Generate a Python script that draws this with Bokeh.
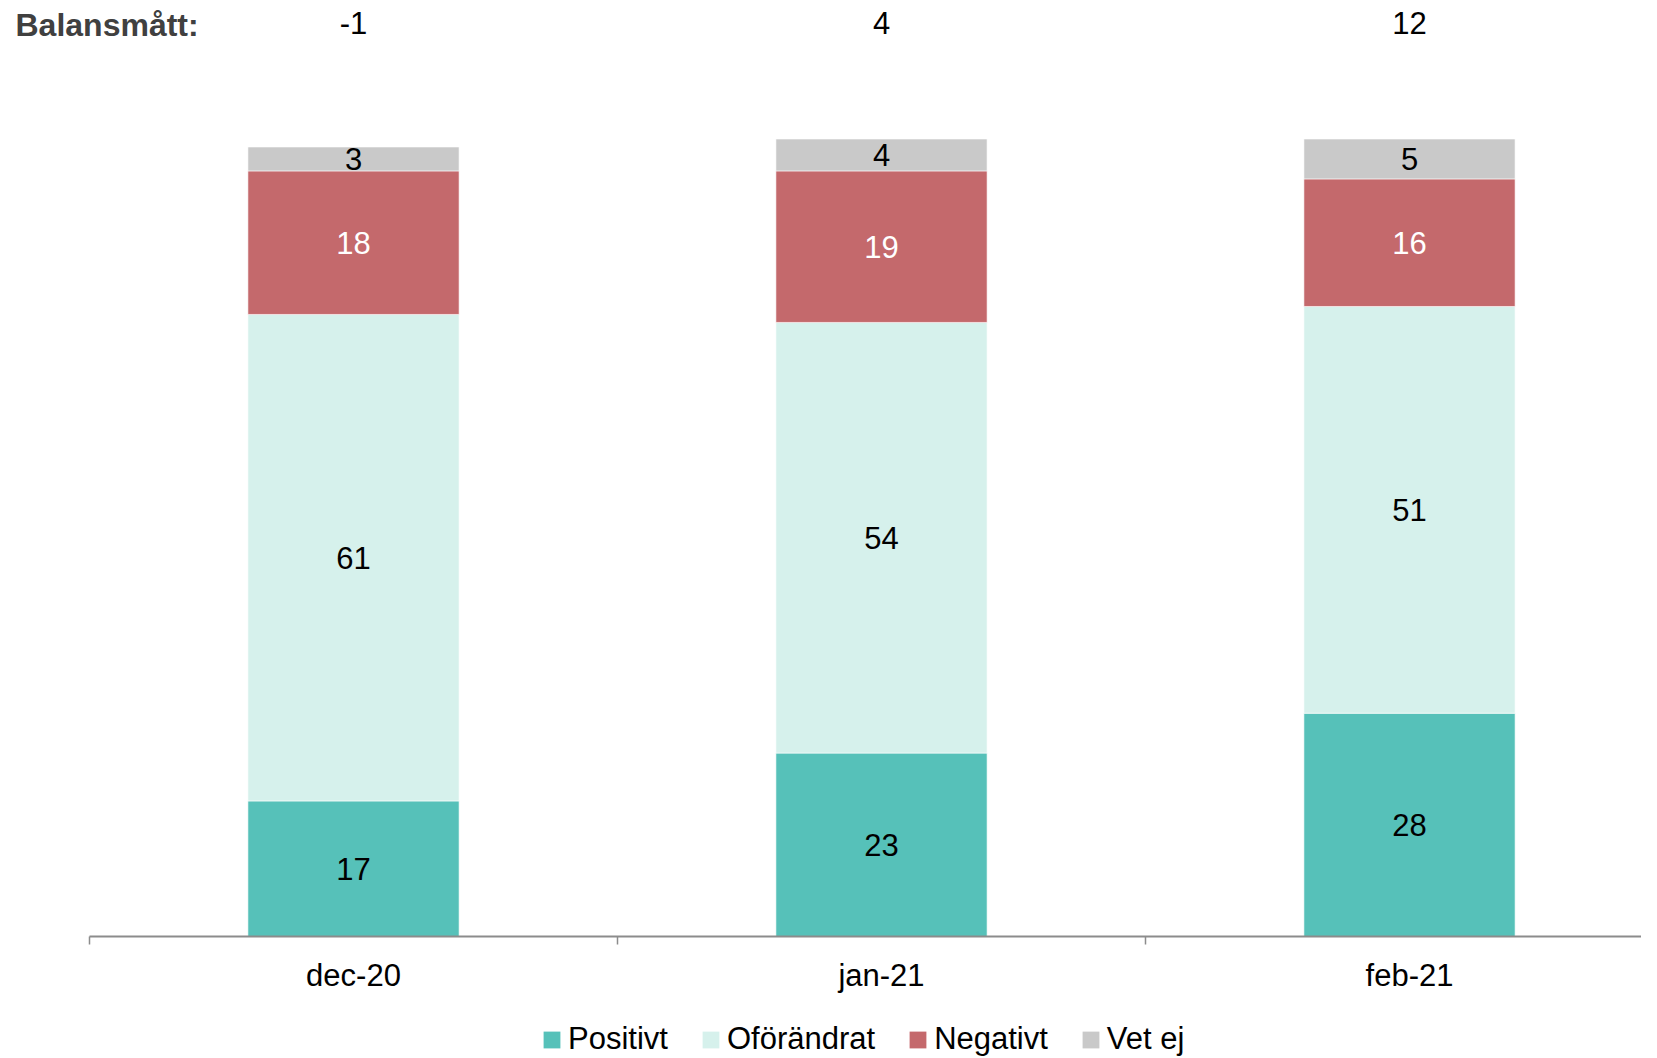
from bokeh.plotting import figure
from bokeh.models import (Range1d, FixedTicker, Legend, LegendItem, Label,
                          ColumnDataSource)
from bokeh.layouts import column
from bokeh.core.properties import value
from bokeh.embed import file_html
from bokeh.resources import INLINE

# ---- data ----
categories = ["dec-20", "jan-21", "feb-21"]
series_names = ["Positivt", "Oförändrat", "Negativt", "Vet ej"]
positivt = [17, 23, 28]
oforandrat = [61, 54, 51]
negativt = [18, 19, 16]
vet_ej = [3, 4, 5]
balansmatt = ["-1", "4", "12"]
balans_title = "Balansmått:"

colors = ["#56C1B9", "#D6F1EC", "#C4696C", "#C9C9C9"]
label_colors = ["#000000", "#000000", "#FFFFFF", "#000000"]
FONT = "Liberation Sans"
FS = "31px"

series = [positivt, oforandrat, negativt, vet_ej]
xs = [i + 0.5 for i in range(len(categories))]

W = 1641
px_per_cat = 528.0
axis_x0 = 89          # pixel where category axis starts
axis_y0 = 936         # pixel of the baseline
px_per_unit = 7.975

p = figure(frame_width=W, frame_height=axis_y0,
           x_range=Range1d(-axis_x0 / px_per_cat, (W - axis_x0) / px_per_cat),
           y_range=Range1d(0, axis_y0 / px_per_unit),
           output_backend="svg", toolbar_location=None,
           min_border_left=0, min_border_right=0, min_border_top=0,
           min_border_bottom=70)
p.outline_line_color = None
p.xgrid.visible = False
p.ygrid.visible = False
p.yaxis.visible = False
p.background_fill_color = "white"
p.border_fill_color = "white"

# ---- legend strip below the chart ----
LH = 51
pl = figure(width=W, height=LH, x_range=Range1d(0, 1), y_range=Range1d(0, 1),
            output_backend="svg", toolbar_location=None,
            x_axis_location=None, y_axis_location=None,
            min_border_left=0, min_border_right=0, min_border_top=0,
            min_border_bottom=0)
pl.outline_line_color = None
pl.xgrid.visible = False
pl.ygrid.visible = False
pl.background_fill_color = "white"
pl.border_fill_color = "white"

items = []
bottoms = [0.0] * len(categories)
for name, vals, col, lcol in zip(series_names, series, colors, label_colors):
    tops = [b + v for b, v in zip(bottoms, vals)]
    src = ColumnDataSource(dict(x=xs, bottom=bottoms, top=tops,
                                mid=[(b + t) / 2 for b, t in zip(bottoms, tops)],
                                lab=[str(v) for v in vals]))
    p.vbar(x="x", bottom="bottom", top="top", width=0.4, source=src,
           fill_color=col, line_color="white", line_width=0.6)
    p.text(x="x", y="mid", text="lab", source=src, text_align="center",
           text_baseline="middle", text_font=value(FONT),
           text_font_size=FS, text_color=lcol)
    # hidden twin of the series, used only for the legend swatch
    r = pl.vbar(x="x", bottom="bottom", top="top", width=0.4, source=src,
                fill_color=col, line_color=None, visible=False)
    items.append(LegendItem(label=name, renderers=[r]))
    bottoms = tops

# balance measures above the bars
bsrc = ColumnDataSource(dict(x=xs, y=[114.5] * len(xs), t=balansmatt))
p.text(x="x", y="y", text="t", source=bsrc, text_align="center",
       text_baseline="middle", text_font=value(FONT), text_font_size=FS,
       text_color="#000000")

p.add_layout(Label(x=15, x_units="screen", y=114.3, text=balans_title,
                   text_font=FONT, text_font_size="32px", text_font_style="bold",
                   text_color="#404040", text_baseline="middle",
                   text_align="left"))

# x axis
ax = p.xaxis[0]
ax.ticker = FixedTicker(ticks=xs, minor_ticks=[0, 1, 2, 3])
ax.bounds = (0, 3)
ax.major_label_overrides = {x: c for x, c in zip(xs, categories)}
ax.major_tick_out = 0
ax.major_tick_in = 0
ax.minor_tick_out = 8
ax.minor_tick_in = 0
ax.minor_tick_line_color = "#8C8C8C"
ax.minor_tick_line_width = 1.5
ax.axis_line_color = "#8C8C8C"
ax.axis_line_width = 2
ax.major_label_text_font = FONT
ax.major_label_text_font_size = FS
ax.major_label_text_color = "#000000"
ax.major_label_standoff = 13

legend = Legend(items=items, orientation="horizontal", location=(541, 0),
                glyph_width=21, glyph_height=21, label_standoff=6,
                spacing=32, padding=0, margin=0,
                label_text_font=FONT, label_text_font_size=FS,
                label_text_color="#000000", border_line_color=None,
                background_fill_alpha=0)
pl.add_layout(legend)

layout = column(p, pl, spacing=0)
open("out.html", "w").write(file_html(layout, INLINE))
